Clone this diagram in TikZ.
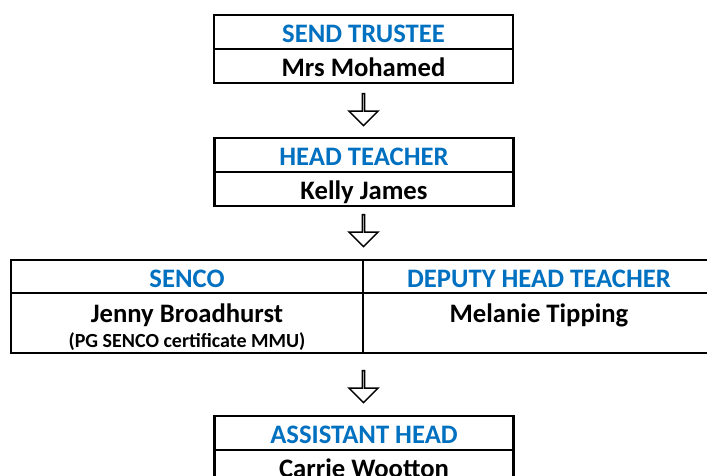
\documentclass[tikz,border=0pt]{standalone}
\usepackage{fontspec}
\setmainfont{Carlito}
\usetikzlibrary{shapes.arrows}
\definecolor{roleblue}{HTML}{0070C0}

\begin{document}
\begin{tikzpicture}[x=0.75pt,y=-0.75pt,
    cell/.style={draw,line width=2pt,minimum width=224.25pt,minimum height=25.5pt,
        inner sep=0pt,text height=16pt,text depth=0pt,font=\bfseries\fontsize{20}{24}\selectfont},
    title/.style={cell,text=roleblue},
    wide/.style={minimum width=264pt},
    textonly/.style={inner sep=0pt,anchor=base,font=\bfseries\fontsize{20}{24}\selectfont},
    downarrow/.style={draw,line width=1.1pt,single arrow,shape border rotate=270,
        minimum height=24pt,minimum width=21.75pt,single arrow head extend=6pt,inner sep=0pt}]
    \useasboundingbox (0,0) rectangle (707,475);

    \node[title] (trustee) at (363.5,32) {SEND TRUSTEE};
    \node[cell] (mohamed) at (363.5,66) {Mrs Mohamed};
    \node[downarrow] (a1) at (363.5,109) {};

    \node[title] (head) at (364,155) {HEAD TEACHER};
    \node[cell] (kelly) at (364,189) {Kelly James};
    \node[downarrow] (a2) at (363.5,230) {};

    \node[title,wide,minimum height=24.75pt] (senco) at (187,276.5) {SENCO};
    \node[title,wide,minimum height=24.75pt] (deputy) at (539,276.5) {DEPUTY HEAD TEACHER};
    \node[cell,wide,minimum height=45pt] (sencobox) at (187,323) {};
    \node[cell,wide,minimum height=45pt] (deputybox) at (539,323) {};
    \node[textonly] (jenny) at (187,322) {Jenny Broadhurst};
    \node[textonly,font=\bfseries\fontsize{15}{18}\selectfont] (pgcert) at (187,347) {(PG SENCO certificate MMU)};
    \node[textonly] (melanie) at (539,322) {Melanie Tipping};
    \node[downarrow] (a3) at (363.5,386) {};

    \node[title] (assistant) at (364,433) {ASSISTANT HEAD};
    \node[cell] (carrie) at (364,467) {Carrie Wootton};
\end{tikzpicture}
\end{document}
